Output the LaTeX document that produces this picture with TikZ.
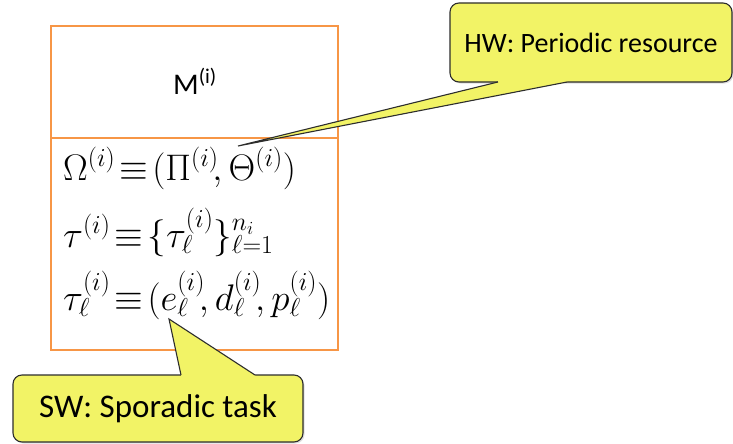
\documentclass[tikz,border=0pt]{standalone}
\usepackage{fix-cm}
\usepackage[no-math]{fontspec}
\setmainfont{Carlito}
\usetikzlibrary{shadows}

\definecolor{frameorange}{RGB}{247,150,70}
\definecolor{noteyellow}{RGB}{242,243,102}
\definecolor{noteline}{RGB}{45,45,45}

\begin{document}
\begin{tikzpicture}[x=1pt,y=-1pt,
    cell/.style={draw=frameorange, line width=2pt, minimum width=287pt, inner sep=0pt},
    eqn/.style={anchor=base west, inner sep=0pt, font=\fontsize{37}{42}\selectfont},
    note/.style={draw=noteline, line width=1.1pt, fill=noteyellow, rounded corners=9pt,
                 inner sep=0pt, drop shadow={opacity=0.25, shadow xshift=1.5pt, shadow yshift=-1.5pt}},
    pointer/.style={draw=noteline, line width=1.1pt, line join=miter}]
    \useasboundingbox (0,0) rectangle (733,444);

        % the component and its interface
        \node[cell, minimum height=112pt] (top) at (194.5,82) {};
        \node[cell, minimum height=212pt] (bottom) at (194.5,244) {};
        \node[font=\fontsize{30}{36}\selectfont] (name) at (195,81) {M\textsuperscript{(i)}};

        \node[eqn] (res) at (63,180) {$\Omega^{(i)}\!\equiv\!(\Pi^{(i)}\!,\Theta^{(i)})$};
        \node[eqn] (tasks) at (63,247) {$\tau^{(i)}\!\equiv\!\{\tau_\ell^{(i)}\}_{\ell=1}^{n_i}$};
        \node[eqn] (task) at (63,310) {$\tau_\ell^{(i)}\!\equiv\!(e_\ell^{(i)}\!,d_\ell^{(i)}\!,p_\ell^{(i)})$};

        % callouts
        \node[note, minimum width=282pt, minimum height=79pt, font=\fontsize{28}{32}\selectfont] (hw) at (591,42.5) {HW: Periodic resource};
        \coordinate (hwtip) at (238,146);
        \coordinate (hwa) at (498,82);
        \coordinate (hwb) at (567,82);
        \fill[noteyellow] (hwa) -- (hwtip) -- (hwb) -- ([yshift=4pt]hwb) -- ([yshift=4pt]hwa) -- cycle;
        \draw[pointer] (hwa) -- (hwtip) -- (hwb);

        \node[note, minimum width=290pt, minimum height=67pt, font=\fontsize{33}{38}\selectfont] (sw) at (158,408.5) {SW: Sporadic task};
        \coordinate (swtip) at (169,319);
        \coordinate (swa) at (181,375);
        \coordinate (swb) at (255,375);
        \fill[noteyellow] (swa) -- (swtip) -- (swb) -- ([yshift=-4pt]swb) -- ([yshift=-4pt]swa) -- cycle;
        \draw[pointer] (swa) -- (swtip) -- (swb);

    \end{tikzpicture}
\end{document}
